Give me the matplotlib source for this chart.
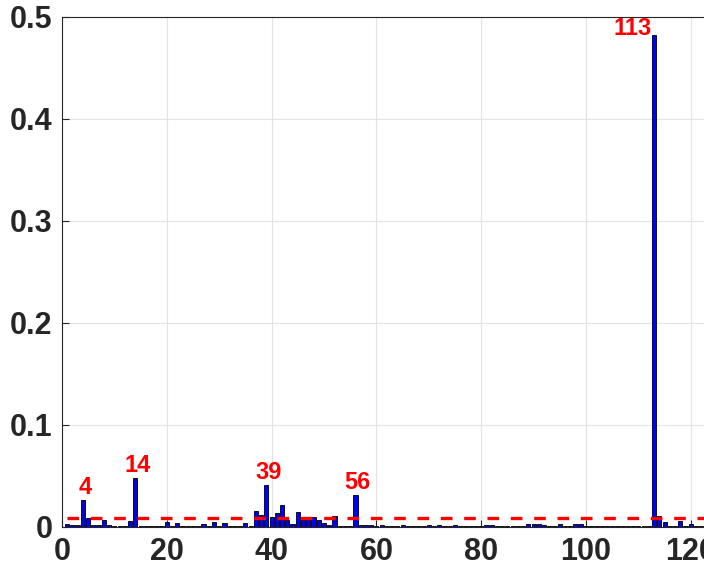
import matplotlib
matplotlib.use("Agg")
import matplotlib.pyplot as plt
import numpy as np

plt.rcParams['font.family'] = ['Liberation Sans', 'DejaVu Sans']

# ---- data ----
values = [
    0.0030, 0.0017, 0.0020, 0.0260, 0.0093, 0.0015, 0.0018, 0.0068, 0.0020, 0.0013,
    0.0012, 0.0012, 0.0057, 0.0480, 0.0008, 0.0008, 0.0008, 0.0008, 0.0008, 0.0052,
    0.0008, 0.0035, 0.0010, 0.0008, 0.0008, 0.0008, 0.0030, 0.0008, 0.0046, 0.0008,
    0.0036, 0.0010, 0.0008, 0.0008, 0.0043, 0.0012, 0.0160, 0.0120, 0.0410, 0.0095,
    0.0135, 0.0218, 0.0068, 0.0027, 0.0150, 0.0070, 0.0088, 0.0095, 0.0072, 0.0040,
    0.0020, 0.0110, 0.0008, 0.0008, 0.0008, 0.0310, 0.0017, 0.0015, 0.0015, 0.0010,
    0.0018, 0.0010, 0.0008, 0.0010, 0.0016, 0.0010, 0.0008, 0.0010, 0.0012, 0.0016,
    0.0010, 0.0018, 0.0008, 0.0010, 0.0016, 0.0010, 0.0008, 0.0008, 0.0010, 0.0010,
    0.0018, 0.0018, 0.0010, 0.0008, 0.0010, 0.0010, 0.0010, 0.0012, 0.0028, 0.0028,
    0.0027, 0.0018, 0.0010, 0.0008, 0.0028, 0.0010, 0.0010, 0.0025, 0.0025, 0.0012,
    0.0010, 0.0010, 0.0010, 0.0010, 0.0012, 0.0010, 0.0013, 0.0013, 0.0010, 0.0010,
    0.0008, 0.0010, 0.4820, 0.0110, 0.0045, 0.0008, 0.0010, 0.0060, 0.0010, 0.0030,
    0.0010, 0.0010, 0.0010, 0.0010, 0.0010,
]
indices = list(range(1, len(values) + 1))
threshold = 0.009
labeled = [4, 14, 39, 56, 113]
x_ticks = [0, 20, 40, 60, 80, 100, 120]
y_ticks = [0, 0.1, 0.2, 0.3, 0.4, 0.5]
y_tick_labels = ['0', '0.1', '0.2', '0.3', '0.4', '0.5']

# ---- figure ----
fig = plt.figure(figsize=(7.04, 5.75), dpi=100)
ax = fig.add_axes([62 / 704, 48 / 575, (126 * 5.24) / 704, 510 / 575])

ax.bar(indices, values, width=0.8, color=(0, 0, 1), edgecolor='#101010',
       linewidth=0.7, zorder=3)
ax.plot([indices[0], indices[-1]], [threshold, threshold], color='red',
        linestyle=(0, (3.5, 3.5)), linewidth=2.4, zorder=4)

for k in labeled:
    v = values[k - 1]
    if v + 0.02 > 0.5:
        ax.text(k - 0.4, v, str(k), color='red', fontsize=17, fontweight='bold',
                ha='right', va='baseline', zorder=5)
    else:
        ax.text(k + 0.4, v + 0.006, str(k), color='red', fontsize=17,
                fontweight='bold', ha='center', va='baseline', zorder=5)

ax.set_xlim(0, 126)
ax.set_ylim(0, 0.5)
ax.set_xticks(x_ticks)
ax.set_xticklabels([str(t) for t in x_ticks])
ax.set_yticks(y_ticks)
ax.set_yticklabels(y_tick_labels)

ax.grid(True, color='#e3e3e3', linewidth=0.8, zorder=0)
ax.set_axisbelow(True)
for s in ax.spines.values():
    s.set_color('#262626')
    s.set_linewidth(0.8)
ax.tick_params(direction='in', length=5, width=0.8, color='#262626',
               labelcolor='#262626', labelsize=22, pad=7,
               top=False, right=False)
for lab in ax.get_xticklabels() + ax.get_yticklabels():
    lab.set_fontweight('bold')

fig.savefig('out.png', dpi=100)
